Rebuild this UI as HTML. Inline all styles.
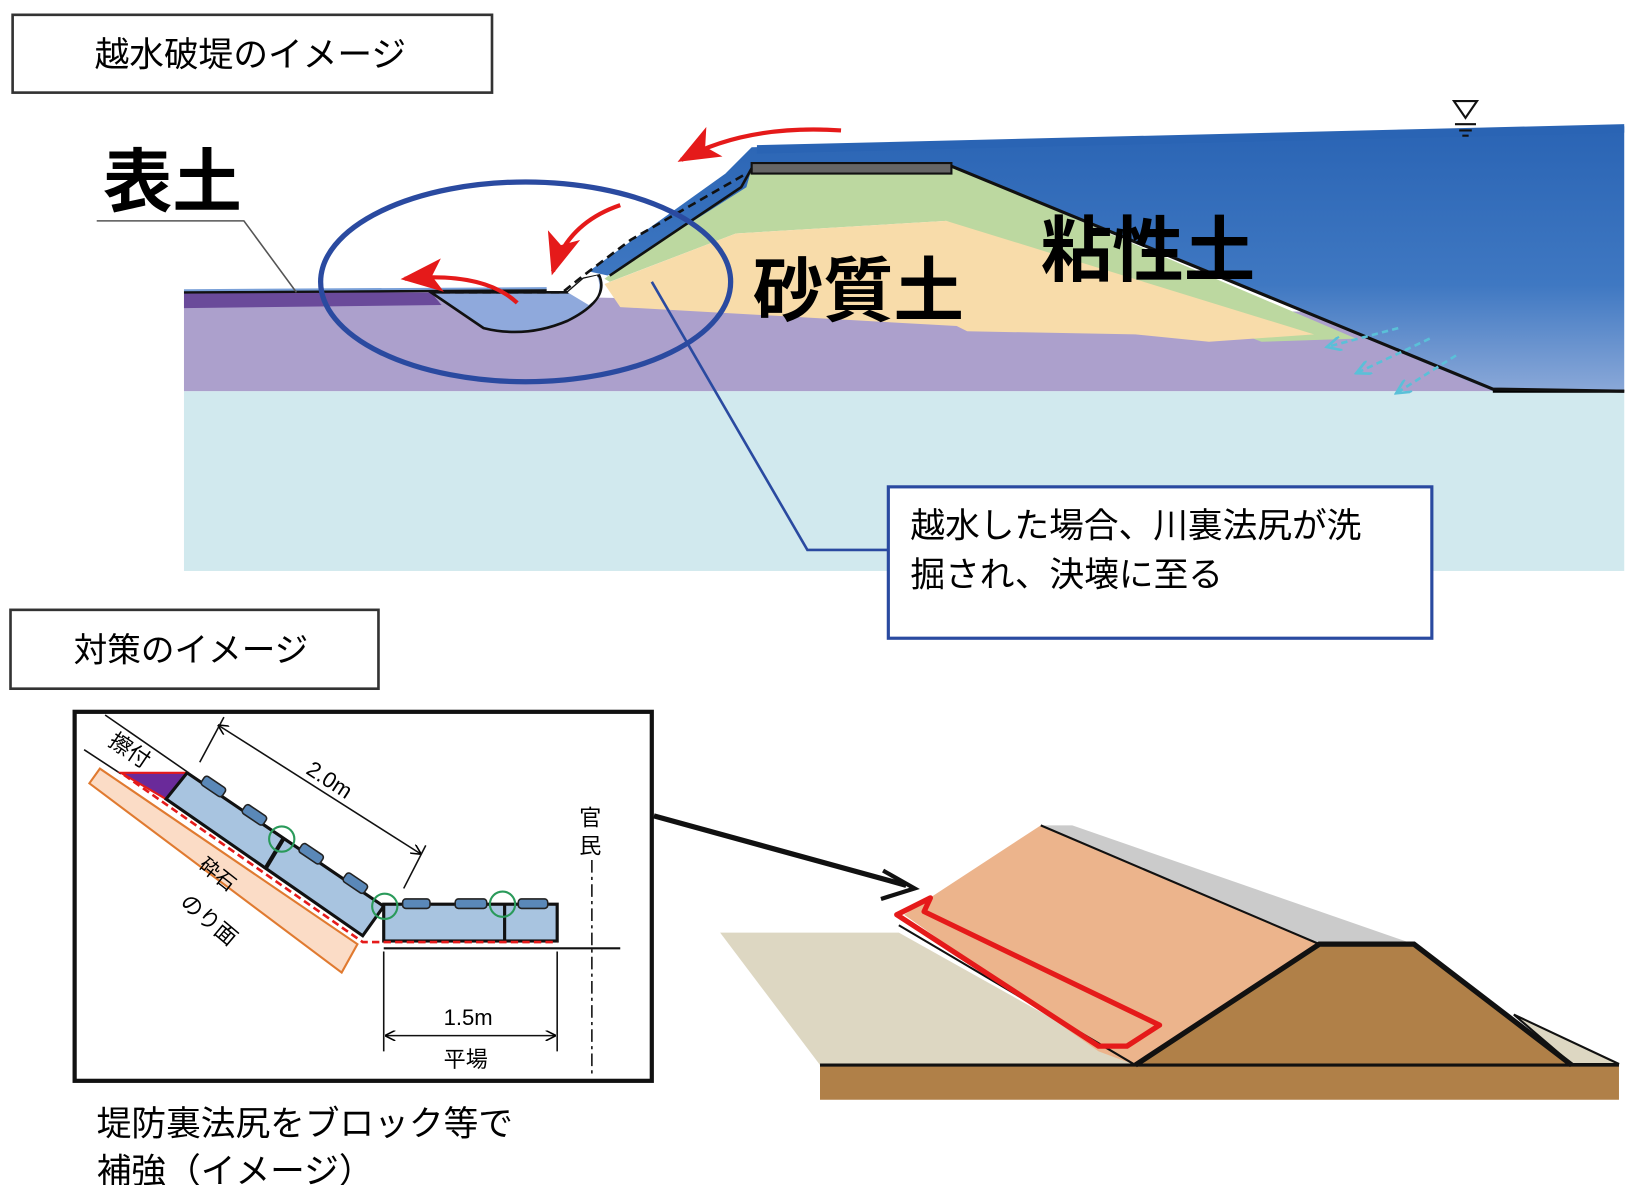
<!DOCTYPE html>
<html><head><meta charset="utf-8"><style>
html,body{margin:0;padding:0;background:#fff;}
svg{display:block;}
text{font-family:"Liberation Sans","Noto Sans CJK JP",sans-serif;}
</style></head><body>
<svg width="1640" height="1185" viewBox="0 0 1560 1127" xmlns="http://www.w3.org/2000/svg">
<defs>
<linearGradient id="wg" x1="0" y1="0" x2="0" y2="1">
<stop offset="0" stop-color="#2a64b4"/><stop offset="0.6" stop-color="#3f78c2"/><stop offset="1" stop-color="#8aa8d8"/></linearGradient>
<marker id="ah" markerWidth="10" markerHeight="10" refX="9" refY="5" orient="auto-start-reverse" markerUnits="userSpaceOnUse"><path d="M0,0 L10,5 L0,10" fill="none" stroke="#000" stroke-width="1.5"/></marker>
<marker id="ra" markerWidth="40" markerHeight="32" refX="36" refY="16" orient="auto" markerUnits="userSpaceOnUse"><path d="M0,0 L40,16 L0,32 L10,16Z" fill="#e51a1a"/></marker>
<marker id="ca" markerWidth="16" markerHeight="14" refX="14" refY="7" orient="auto" markerUnits="userSpaceOnUse"><path d="M0,0 L14,7 L0,14" fill="none" stroke="#5ac0d8" stroke-width="2.5"/></marker>
</defs>
<!-- title 1 -->
<rect x="12" y="14" width="456" height="74" fill="#fff" stroke="#333" stroke-width="2.5"/>
<text x="90" y="63" font-size="33">越水破堤のイメージ</text>
<!-- top diagram -->
<rect x="175" y="372" width="1370" height="171" fill="#d1e9ee"/>
<path d="M175,285 L420,280 L1420,300 L1420,372 L175,372Z" fill="#aca0cc"/>
<path d="M175,278 L410,278 L420,290 L175,293Z" fill="#6a4a9a"/>
<path d="M575,265 L715,158 L905,158 L1290,322 L1200,325 L900,210 L700,222 L580,268Z" fill="#bcd8a0"/>
<path d="M575,270 L700,222 L900,210 L1250,318 L1150,325 L1080,318 L920,315 L910,310 L590,292Z" fill="#f8dcaa"/>
<path d="M715,140 L1545,120 L1545,372 L1420,372 L905,158 L715,160 L710,178 L578,262 L560,258 L690,165Z" fill="url(#wg)"/>
<path d="M720,138 L1545,118 L1545,126 L720,146Z" fill="#2a64b4"/>
<path d="M1420,372 L1545,372" stroke="#000" stroke-width="3"/>
<path d="M905,158 L1420,370 L1545,372" fill="none" stroke="#111" stroke-width="3"/>
<rect x="715" y="155" width="190" height="10" fill="#666" stroke="#111" stroke-width="2"/>
<path d="M715,160 L705,178 L580,262" fill="none" stroke="#111" stroke-width="2.5"/>
<path d="M410,278 L460,312 Q500,322 540,305 Q580,285 570,262 L555,265 L540,278Z" fill="#8fa9dc" stroke="#111" stroke-width="2.5"/>
<path d="M540,278 L555,265 L568,262 Q575,280 560,290 Z" fill="#fff"/>
<path d="M175,278 L520,276" stroke="#111" stroke-width="2.5"/>
<path d="M175,276 L520,274" stroke="#7aa0d8" stroke-width="2"/>
<path d="M420,278 L535,278 L555,262 L600,228 L710,165" fill="none" stroke="#111" stroke-width="2.5" stroke-dasharray="8,5"/>
<!-- red arrows -->
<path d="M800,124 Q710,118 648,152" fill="none" stroke="#e51a1a" stroke-width="4" marker-end="url(#ra)"/>
<path d="M590,195 Q540,212 526,258" fill="none" stroke="#e51a1a" stroke-width="4" marker-end="url(#ra)"/>
<path d="M492,288 Q460,258 385,265" fill="none" stroke="#e51a1a" stroke-width="4" marker-end="url(#ra)"/>
<g stroke="#5ac0d8" stroke-width="2.5" stroke-dasharray="6,4" fill="none">
<path d="M1330,312 L1262,330" marker-end="url(#ca)"/><path d="M1360,322 L1290,355" marker-end="url(#ca)"/><path d="M1385,338 L1328,374" marker-end="url(#ca)"/></g>
<ellipse cx="500" cy="268" rx="195" ry="95" fill="none" stroke="#2a4aa0" stroke-width="5"/>
<path d="M1383,96 L1405,96 L1394,112Z" fill="none" stroke="#111" stroke-width="2"/>
<path d="M1384,118 L1404,118 M1388,124 L1400,124 M1391,129 L1397,129" stroke="#111" stroke-width="2"/>
<path d="M92,210 L232,210 L282,278" fill="none" stroke="#555" stroke-width="1.5"/>
<text x="98" y="196" font-size="66" font-weight="bold">表土</text>
<text x="716" y="300" font-size="67" font-weight="bold">砂質土</text>
<text x="990" y="262" font-size="68" font-weight="bold">粘性土</text>
<path d="M620,268 L768,523 L845,523" fill="none" stroke="#2a4aa0" stroke-width="2.5"/>
<rect x="845" y="463" width="517" height="144" fill="#fff" stroke="#2a4aa0" stroke-width="3"/>
<text x="866" y="511" font-size="33">越水した場合、川裏法尻が洗</text>
<text x="866" y="558" font-size="33">掘され、決壊に至る</text>
<!-- title 2 -->
<rect x="10" y="580" width="350" height="75" fill="#fff" stroke="#333" stroke-width="2.5"/>
<text x="70" y="629" font-size="32">対策のイメージ</text>
<!-- detail box -->
<rect x="71" y="677" width="549" height="351" fill="#fff" stroke="#111" stroke-width="4"/>
<path d="M85,745 L95,731 L340,898 L325,925Z" fill="#fbdcc6" stroke="#e07a30" stroke-width="2"/>
<path d="M100,680 L178,734 M80,713 L115,736" stroke="#111" stroke-width="1.5"/>
<path d="M115,735 L178,735 L158,760Z" fill="#6a2a9a" stroke="#e51a1a" stroke-width="2"/>
<path d="M178,735 L365,862 L345,890 L158,760Z" fill="#a8c4e0" stroke="#111" stroke-width="3"/>
<path d="M270,797 L252,827" stroke="#111" stroke-width="4"/>
<rect x="365" y="860" width="165" height="35" fill="#a8c4e0" stroke="#111" stroke-width="3"/>
<path d="M480,860 L480,895" stroke="#111" stroke-width="3"/>
<g fill="#5a88b8" stroke="#222" stroke-width="1.5">
<rect x="-12" y="-5" width="24" height="10" rx="3" transform="translate(203,748) rotate(34)"/>
<rect x="-12" y="-5" width="24" height="10" rx="3" transform="translate(242,775) rotate(34)"/>
<rect x="-12" y="-5" width="24" height="10" rx="3" transform="translate(296,812) rotate(34)"/>
<rect x="-12" y="-5" width="24" height="10" rx="3" transform="translate(338,840) rotate(34)"/>
<rect x="383" y="855" width="26" height="9" rx="3"/><rect x="433" y="855" width="30" height="9" rx="3"/><rect x="493" y="855" width="28" height="9" rx="3"/></g>
<g fill="none" stroke="#2a9a5a" stroke-width="2"><circle cx="268" cy="798" r="12"/><circle cx="366" cy="862" r="12"/><circle cx="478" cy="860" r="12"/></g>
<path d="M118,737 L345,896 L530,896" fill="none" stroke="#e51a1a" stroke-width="2.5" stroke-dasharray="7,4"/>
<path d="M365,902 L590,902" stroke="#111" stroke-width="2"/>
<path d="M208,690 L400,812" stroke="#111" stroke-width="1.5" marker-end="url(#ah)" marker-start="url(#ah)"/>
<path d="M213,682 L190,725 M405,804 L384,845" stroke="#111" stroke-width="1.5"/>
<text x="0" y="0" font-size="21" transform="translate(290,735) rotate(33)">2.0m</text>
<path d="M365,905 L365,1000 M530,905 L530,1000" stroke="#111" stroke-width="1.5"/>
<path d="M367,985 L528,985" stroke="#111" stroke-width="1.5" marker-end="url(#ah)" marker-start="url(#ah)"/>
<text x="422" y="975" font-size="21">1.5m</text>
<text x="422" y="1015" font-size="21">平場</text>
<path d="M563,818 L563,1022" stroke="#111" stroke-width="1.5" stroke-dasharray="12,4,3,4"/>
<text x="551" y="785" font-size="21">官</text>
<text x="551" y="812" font-size="21">民</text>
<text x="0" y="0" font-size="21" transform="translate(102,708) rotate(34)">擦付</text>
<text x="0" y="0" font-size="19" transform="translate(188,825) rotate(38)">砕石</text>
<text x="0" y="0" font-size="21" transform="translate(170,860) rotate(40)">のり面</text>
<text x="92" y="1080" font-size="33">堤防裏法尻をブロック等で</text>
<text x="92" y="1125" font-size="33">補強（イメージ）</text>
<!-- arrow -->
<path d="M622,776 L862,842" stroke="#111" stroke-width="5"/>
<path d="M840,828 L870,845 L838,855" fill="none" stroke="#111" stroke-width="4"/>
<!-- 3D embankment -->
<path d="M685,887 L855,887 L1080,1013 L780,1013Z" fill="#ddd7c2"/>
<path d="M990,785 L1020,785 L1345,898 L1255,898Z" fill="#cbcbcb"/>
<path d="M990,785 L1255,898 L1080,1013 L1045,1000 L860,870Z" fill="#ecb48c"/>
<path d="M855,880 L1080,1013" stroke="#111" stroke-width="2"/>
<rect x="780" y="1013" width="760" height="33" fill="#b08048"/>
<path d="M1440,965 L1540,1012 L1495,1012Z" fill="#ddd7c2" stroke="#111" stroke-width="2"/>
<path d="M1080,1013 L1255,898 L1345,898 L1495,1013Z" fill="#b08048"/>
<path d="M990,785 L1255,898" stroke="#111" stroke-width="2"/>
<path d="M1080,1013 L1255,898 L1345,898 L1495,1013" fill="none" stroke="#111" stroke-width="5"/>
<path d="M780,1013 L1540,1013" stroke="#111" stroke-width="3"/>
<path d="M853,870 L885,854 L879,867 L1103,975 L1072,995 L1045,995Z" fill="none" stroke="#e51a1a" stroke-width="5" stroke-linejoin="round"/>
</svg>
</body></html>
